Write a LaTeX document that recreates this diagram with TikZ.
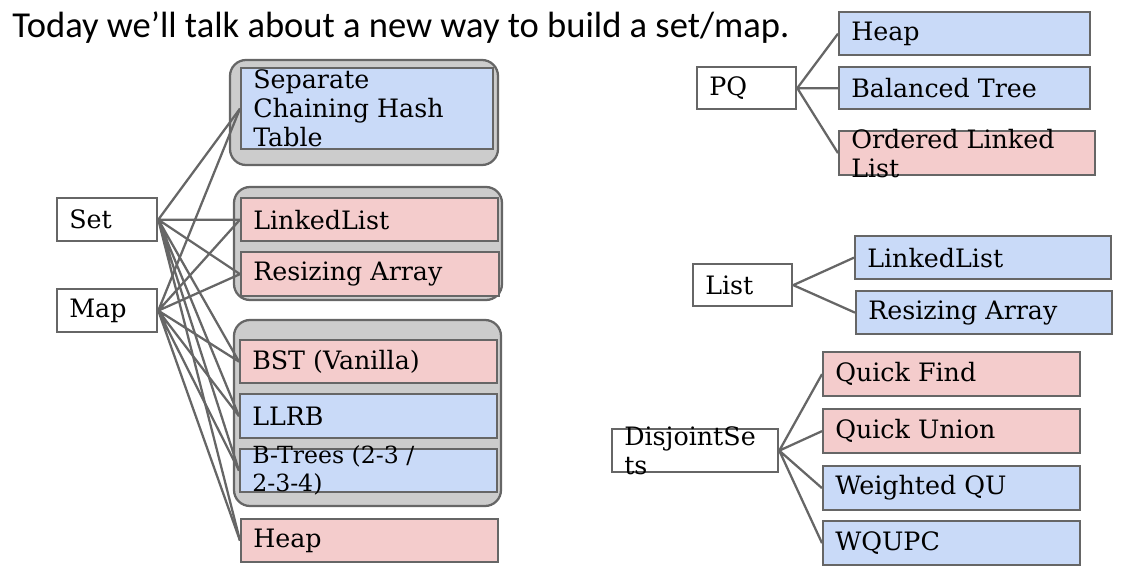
\documentclass[tikz,border=0pt]{standalone}
\usepackage{fontspec}
\setmainfont{DejaVu Serif}
\newfontfamily\titlefont{Carlito}
\usetikzlibrary{positioning}
\definecolor{boxblue}{HTML}{C9DAF8}
\definecolor{boxpink}{HTML}{F4CCCC}
\definecolor{groupgray}{HTML}{CCCCCC}
\definecolor{edgegray}{HTML}{666666}
% [text style] name, x, y, width, height (all in px), fill, text
\newcommand{\dsbox}[7][]{%
  \node[box,fill=#6,minimum width=#4*0.75pt,minimum height=#5*0.75pt] (#2) at (#3) {};
  \node[boxtext,#1] (#2-txt) at ([xshift=9.75pt]#2.west) {#7};}

\begin{document}
\begin{tikzpicture}[x=0.75pt,y=-0.75pt,
  box/.style={draw=edgegray,line width=1.7pt,anchor=north west,inner sep=0pt},
  boxtext/.style={anchor=west,inner sep=0pt,align=left,font=\fontsize{19}{21.75}\selectfont},
  group/.style={draw=edgegray,line width=1.7pt,fill=groupgray,rounded corners=12pt},
  link/.style={draw=edgegray,line width=1.7pt}]
  \useasboundingbox (0,0) rectangle (1130,575);

  \node[anchor=base west,inner sep=0pt,font=\titlefont\fontsize{27.4}{32}\selectfont] (title) at (12,37)
    {Today we’ll talk about a new way to build a set/map.};

  % gray groups behind the implementations
  \draw[group] (230,60) rectangle (498,165);
  \draw[group] (234,187) rectangle (502,300);
  \draw[group] (234,320) rectangle (501,506);

  % set / map
  \dsbox{set}{56,197}{100}{43}{white}{Set}
  \dsbox{map}{56,288}{100}{43}{white}{Map}
  \dsbox{sch}{240,67}{252}{81}{boxblue}{Separate\\Chaining Hash\\Table}
  \dsbox{ll}{240,197}{257}{43}{boxpink}{LinkedList}
  \dsbox{ra}{240,251}{258}{44}{boxpink}{Resizing Array}
  \dsbox{bst}{239,339}{257}{43}{boxpink}{BST (Vanilla)}
  \dsbox{llrb}{239,393}{257}{44}{boxblue}{LLRB}
  \dsbox[font=\fontsize{17.7}{21}\selectfont]{bt}{239,448}{257}{43}{boxblue}{B-Trees (2-3 /\\2-3-4)}
  \dsbox{heap}{240,518}{257}{43}{boxpink}{Heap}

  % priority queue
  \dsbox{pq}{696,66}{99}{42}{white}{PQ}
  \dsbox{pqheap}{838,11}{251}{43}{boxblue}{Heap}
  \dsbox{bal}{838,66}{251}{42}{boxblue}{Balanced Tree}
  \dsbox{oll}{838,130}{256}{44}{boxpink}{Ordered Linked\\List}

  % list
  \dsbox{list}{692,263}{99}{42}{white}{List}
  \dsbox{lll}{854,235}{256}{43}{boxblue}{LinkedList}
  \dsbox{lra}{855,290}{256}{43}{boxblue}{Resizing Array}

  % disjoint sets
  \dsbox{djs}{611,428}{166}{43}{white}{DisjointSe\\ts}
  \dsbox{qf}{822,351}{257}{44}{boxpink}{Quick Find}
  \dsbox{qu}{822,408}{257}{44}{boxpink}{Quick Union}
  \dsbox{wqu}{822,465}{257}{44}{boxblue}{Weighted QU}
  \dsbox{wqupc}{822,520}{257}{44}{boxblue}{WQUPC}

  \draw[link] (set.east) -- (sch.west)  (set.east) -- (ll.west)   (set.east) -- (ra.west)
              (set.east) -- (bst.west)  (set.east) -- (llrb.west) (set.east) -- (bt.west)
              (set.east) -- (heap.west);
  \draw[link] (map.east) -- (sch.west)  (map.east) -- (ll.west)   (map.east) -- (ra.west)
              (map.east) -- (bst.west)  (map.east) -- (llrb.west) (map.east) -- (bt.west)
              (map.east) -- (heap.west);
  \draw[link] (pq.east) -- (pqheap.west) (pq.east) -- (bal.west) (pq.east) -- (oll.west);
  \draw[link] (list.east) -- (lll.west) (list.east) -- (lra.west);
  \draw[link] (djs.east) -- (qf.west) (djs.east) -- (qu.west)
              (djs.east) -- (wqu.west) (djs.east) -- (wqupc.west);
\end{tikzpicture}
\end{document}
